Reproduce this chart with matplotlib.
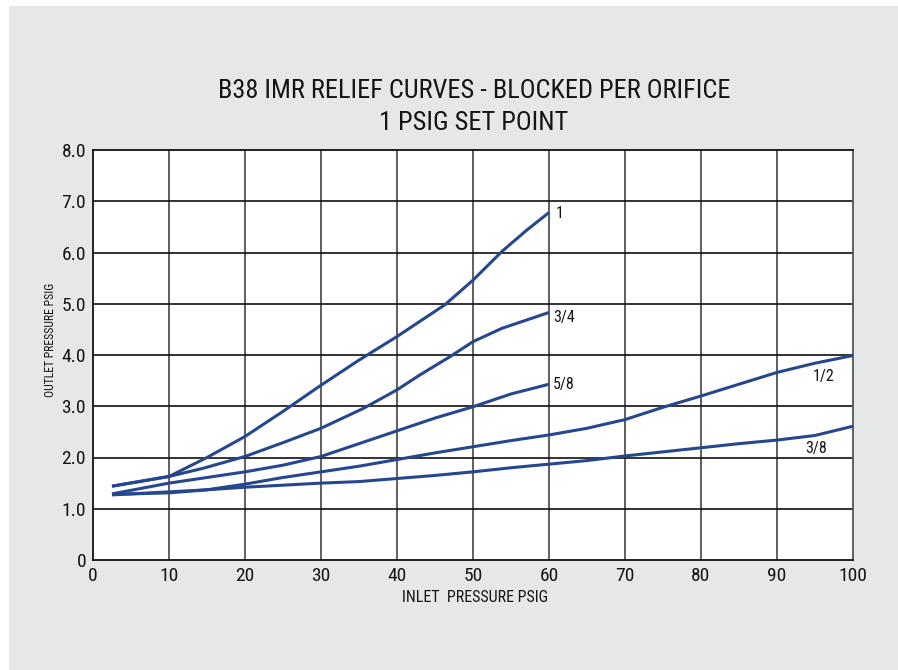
import matplotlib
matplotlib.use("Agg")
import matplotlib.pyplot as plt
from matplotlib.patches import Rectangle
from matplotlib import font_manager as fm

# ---------------- data ----------------
x_ticks = [0, 10, 20, 30, 40, 50, 60, 70, 80, 90, 100]
y_ticks = [0, 1, 2, 3, 4, 5, 6, 7, 8]
y_tick_labels = ["0", "1.0", "2.0", "3.0", "4.0", "5.0", "6.0", "7.0", "8.0"]

x_1 = [2.5, 10, 15, 20, 25, 30, 35, 40, 46.3, 50, 53.8, 57.1, 60]
y_1 = [1.44, 1.63, 2.00, 2.41, 2.90, 3.41, 3.90, 4.36, 4.98, 5.46, 6.02, 6.44, 6.78]

x_34 = [2.5, 10, 14.5, 20, 25, 30, 35.6, 40, 43, 47, 50, 53.8, 60]
y_34 = [1.44, 1.63, 1.79, 2.02, 2.29, 2.57, 2.96, 3.32, 3.61, 3.97, 4.26, 4.52, 4.83]

x_58 = [2.5, 10, 15, 20, 25, 30, 35, 40, 45, 50, 55, 60]
y_58 = [1.29, 1.50, 1.61, 1.72, 1.85, 2.02, 2.27, 2.52, 2.77, 2.99, 3.24, 3.43]

x_12 = [2.5, 10, 15, 20, 25, 30, 35, 40, 45, 50, 55, 60, 65, 70, 75, 80, 85, 90, 95, 100]
y_12 = [1.28, 1.31, 1.37, 1.48, 1.61, 1.72, 1.83, 1.96, 2.09, 2.21, 2.33, 2.44,
        2.57, 2.74, 2.98, 3.20, 3.43, 3.66, 3.84, 3.99]

x_38 = [2.5, 10, 15, 20, 25, 30, 35, 40, 45, 50, 55, 60, 65, 70, 75, 80, 85, 90, 95, 100]
y_38 = [1.27, 1.33, 1.37, 1.42, 1.46, 1.50, 1.53, 1.59, 1.65, 1.72, 1.80, 1.87,
        1.94, 2.03, 2.11, 2.19, 2.27, 2.34, 2.43, 2.61]

series = [("1", x_1, y_1), ("3/4", x_34, y_34), ("5/8", x_58, y_58),
          ("1/2", x_12, y_12), ("3/8", x_38, y_38)]
label_pos = {"1": (60.9, 6.77), "3/4": (60.5, 4.74), "5/8": (60.5, 3.43),
             "1/2": (94.7, 3.59), "3/8": (93.7, 2.17)}

title_1 = "B38 IMR RELIEF CURVES - BLOCKED PER ORIFICE"
title_2 = "1 PSIG SET POINT"
x_label = "INLET  PRESSURE PSIG"
y_label = "OUTLET PRESSURE PSIG"

# ---------------- font choice (prefer a condensed face) ----------------
fonts = fm.fontManager.ttflist
names = {f.name for f in fonts}
family = "DejaVu Sans"
stretch = "normal"
for cand in ["Liberation Sans Narrow", "Roboto Condensed", "Open Sans Condensed",
             "Noto Sans Condensed", "Arial Narrow"]:
    if cand in names:
        family = cand
        break
else:
    for f in fonts:
        if f.name in ("Roboto", "Open Sans", "Noto Sans", "DejaVu Sans", "Inter") and \
                str(f.stretch) in ("condensed", "semi-condensed", "500", "300", "400"):
            family = f.name
            stretch = f.stretch
            break
plt.rcParams["font.family"] = [family, "DejaVu Sans"]
plt.rcParams["font.stretch"] = stretch

line_color = "#26478e"
bg_gray = "#e6e7e8"
txt = "#151515"

W, H = 898, 670
fig = plt.figure(figsize=(W / 100, H / 100), dpi=100, facecolor="white")
fig.patches.append(Rectangle((9 / W, 0), 1 - 9 / W, 1 - 6 / H, transform=fig.transFigure,
                             facecolor=bg_gray, edgecolor="none", zorder=-10))

ax = fig.add_axes([93 / W, 1 - 560 / H, (853 - 93) / W, (560 - 150) / H])
ax.set_facecolor("white")
ax.set_xlim(0, 100)
ax.set_ylim(0, 8)
ax.set_xticks(x_ticks)
ax.set_xticklabels([str(t) for t in x_ticks])
ax.set_yticks(y_ticks)
ax.set_yticklabels(y_tick_labels)
ax.tick_params(length=0, labelsize=14, pad=5, colors=txt)

for xv in x_ticks[1:-1]:
    ax.axvline(xv, color="#444444", lw=1.2, zorder=1)
for yv in y_ticks[1:-1]:
    ax.axhline(yv, color="#111111", lw=1.2, zorder=1)
for side in ["left", "top", "bottom"]:
    ax.spines[side].set_color("#111111")
    ax.spines[side].set_linewidth(1.3)
ax.spines["right"].set_color("#555555")
ax.spines["right"].set_linewidth(1.3)

for name, xs, ys in series:
    ax.plot(xs, ys, color=line_color, lw=2.2, solid_capstyle="butt", zorder=3)
    lx, ly = label_pos[name]
    ax.text(lx, ly, name, fontsize=11.5, color=txt, ha="left", va="center")

t1 = fig.text(474 / W, 1 - 91 / H, title_1, fontsize=19, ha="center", va="center", color=txt)
t2 = fig.text(474 / W, 1 - 123 / H, title_2, fontsize=19, ha="center", va="center", color=txt)
xl = fig.text(475 / W, 1 - 598 / H, x_label, fontsize=11.5, ha="center", va="center", color=txt)
yl = fig.text(50 / W, 1 - 340 / H, y_label, fontsize=8.5, ha="center", va="center",
              rotation=90, color=txt)

# fit text widths to the reference layout when the face is wider than the original
renderer = fig.canvas.get_renderer()
def fit(t, target, vertical=False):
    bb = t.get_window_extent(renderer)
    size = bb.height if vertical else bb.width
    if size > target:
        t.set_fontsize(t.get_fontsize() * target / size)
fit(t1, 526)
t2.set_fontsize(t1.get_fontsize())
fit(xl, 154)
fit(yl, 126, vertical=True)

fig.savefig("out.png", dpi=100, facecolor=fig.get_facecolor())
